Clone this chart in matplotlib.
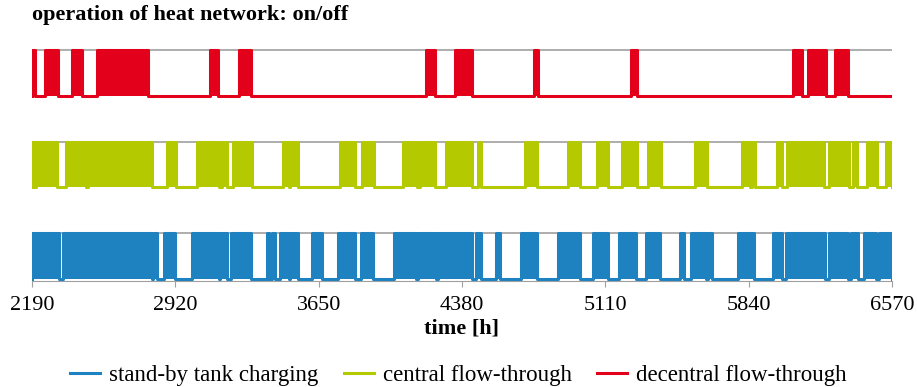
import numpy as np
from matplotlib import pyplot as plt

# on-intervals [start, end] in hours
standby_on = [
    (2190, 2327), (2348, 2800), (2806, 2826), (2862, 2917), (3004, 3141),
    (3146, 3182), (3202, 3304), (3385, 3396), (3411, 3426), (3452, 3497),
    (3502, 3543), (3614, 3665), (3747, 3833), (3864, 3925), (4032, 4148),
    (4154, 4250), (4260, 4433), (4449, 4479), (4555, 4576), (4678, 4764),
    (4871, 4983), (5049, 5125), (5181, 5268), (5318, 5390), (5491, 5512),
    (5547, 5624), (5634, 5654), (5787, 5868), (5965, 6010), (6031, 6229),
    (6249, 6346), (6361, 6397), (6427, 6488), (6504, 6570),
]
central_on = [
    (2190, 2200), (2210, 2317), (2363, 2465), (2475, 2800), (2877, 2923),
    (3029, 3141), (3157, 3182), (3213, 3309), (3467, 3497), (3502, 3543),
    (3757, 3833), (3869, 3930), (4077, 4149), (4164, 4240), (4301, 4433),
    (4459, 4479), (4703, 4764), (4922, 4983), (5069, 5125), (5196, 5273),
    (5329, 5395), (5568, 5629), (5807, 5848), (5858, 5873), (5985, 6010),
    (6036, 6224), (6249, 6351), (6371, 6392), (6443, 6494), (6539, 6570),
]
decentral_on = [
    (2190, 2205), (2256, 2322), (2393, 2444), (2521, 2780), (3095, 3136),
    (3243, 3304), (4199, 4245), (4342, 4433), (4749, 4769), (5242, 5273),
    (6066, 6112), (6143, 6234), (6280, 6346),
]

t_start, t_end = 2190, 6570
xticks = [2190, 2920, 3650, 4380, 5110, 5840, 6570]

series = [
    ('stand-by tank charging', standby_on, 0, '#1f82c0'),
    ('central flow-through', central_on, 2, '#b5c900'),
    ('decentral flow-through', decentral_on, 4, '#e3001a'),
]


def step_signal(intervals, offset):
    x = [t_start]
    y = [offset]
    for s, e in intervals:
        x += [s, e]
        y += [offset + 1, offset]
    x.append(t_end)
    y.append(offset)
    return np.array(x), np.array(y)


plt.rcParams['font.family'] = 'Liberation Serif'
fig = plt.figure(figsize=(9.17, 3.87), dpi=100)
ax = fig.add_axes([32 / 917, 106 / 387, 860 / 917, 233 / 387])

handles = []
for label, on, off, color in series:
    x, y = step_signal(on, off)
    ax.fill_between(x, off, y, step='post', color=color, lw=0, zorder=2)
    h, = ax.step(x, y, where='post', color=color, lw=2.2, zorder=3, label=label)
    handles.append(h)

ax.set_xlim(t_start, t_end)
ax.set_ylim(-0.05, 5.05)
ax.set_yticks([1, 3, 5])
ax.set_yticklabels([])
ax.tick_params(axis='y', length=0)
ax.grid(axis='y', color='#a0a0a0', lw=1.2, zorder=0)
ax.set_axisbelow(True)

ax.set_xticks(xticks)
ax.set_xticklabels([str(t) for t in xticks], fontsize=16)
ax.tick_params(axis='x', length=4, color='#a0a0a0', pad=7)
for side in ['top', 'left', 'right']:
    ax.spines[side].set_visible(False)
ax.spines['bottom'].set_color('#a0a0a0')
ax.set_xlabel('time [h]', fontsize=16, fontweight='bold', labelpad=2)

fig.text(32 / 917, 1 - 5 / 387, 'operation of heat network: on/off',
         fontsize=16, fontweight='bold', va='top', ha='left')

fig.legend(handles=handles, loc='center', bbox_to_anchor=(0.5, 12 / 387), ncol=3,
           frameon=False, fontsize=16.5, handlelength=1.3, handletextpad=0.4,
           columnspacing=1.1)

plt.savefig('out.png', dpi=100)
